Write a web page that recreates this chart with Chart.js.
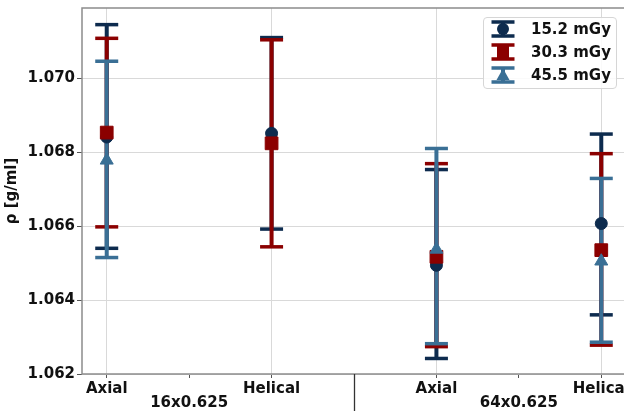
<!DOCTYPE html>
<html>
<head>
<meta charset="utf-8">
<script src="https://cdn.jsdelivr.net/npm/chart.js@4.4.1/dist/chart.umd.min.js"></script>
<style>
  html, body { margin: 0; padding: 0; background: #fff; overflow: hidden; }
  #wrap { position: relative; width: 624px; height: 411px; overflow: hidden; }
  #c { position: absolute; left: 0; top: 0; }
  #legend { position: absolute; left: 483px; top: 17px; width: 132px; height: 70px;
    border: 1px solid #d6d6d6; border-radius: 4px; background: rgba(255,255,255,0.85);
    font: bold 15px "DejaVu Sans", sans-serif; color: #111; }
  .row { position: absolute; left: 0; height: 20px; display: flex; align-items: center; white-space: nowrap; }
  .row canvas { margin-left: 6px; margin-right: 15px; }
</style>
</head>
<body>
<div id="wrap">
  <canvas id="c" width="630" height="411" style="width:630px;height:411px"></canvas>
  <div id="legend"></div>
</div>
<script>
// categories
const xLabels = ['Axial', 'Helical', 'Axial', 'Helical'];
const groupLabels = ['16x0.625', '64x0.625'];
const groupCenters = [0.5, 2.5];

// series names
const doseNames = ['15.2 mGy', '30.3 mGy', '45.5 mGy'];

// 15.2 mGy
const dose152Mean = [1.06841, 1.06851, 1.06494, 1.06607];
const dose152Low  = [1.06540, 1.06592, 1.06242, 1.06360];
const dose152High = [1.07145, 1.07110, 1.06753, 1.06849];

// 30.3 mGy
const dose303Mean = [1.06853, 1.06824, 1.06517, 1.06535];
const dose303Low  = [1.06598, 1.06544, 1.06274, 1.06278];
const dose303High = [1.07108, 1.07104, 1.06769, 1.06796];

// 45.5 mGy (no helical 16x0.625 point)
const dose455Mean = [1.06778, null, 1.06537, 1.06505];
const dose455Low  = [1.06515, null, 1.06282, 1.06286];
const dose455High = [1.07046, null, 1.06810, 1.06729];

const colors = ['#0d2b4e', '#8b0000', '#3a6f95'];
const markers = ['circle', 'rect', 'triangle'];
const markerRadius = [6, 9, 7.5];

function barPoints(low, high) {
  const pts = [];
  low.forEach((lo, i) => {
    if (lo === null) return;
    pts.push({x: i, y: lo}, {x: i, y: high[i]}, {x: i + 0.5, y: null});
  });
  return pts;
}

function meanPoints(mean) {
  return mean.map((v, i) => ({x: i, y: v})).filter(p => p.y !== null);
}

const means = [dose152Mean, dose303Mean, dose455Mean];
const lows = [dose152Low, dose303Low, dose455Low];
const highs = [dose152High, dose303High, dose455High];

const datasets = [];
for (let s = 0; s < 3; s++) {
  datasets.push({
    type: 'line',
    label: doseNames[s] + ' err',
    data: barPoints(lows[s], highs[s]),
    borderColor: colors[s],
    borderWidth: 4,
    spanGaps: false,
    pointStyle: 'line',
    pointRadius: 11.5,
    pointBorderWidth: 3.5,
    pointBorderColor: colors[s],
    pointBackgroundColor: colors[s],
    order: 5 - s
  });
}
for (let s = 0; s < 3; s++) {
  datasets.push({
    type: 'scatter',
    label: doseNames[s],
    data: meanPoints(means[s]),
    showLine: false,
    pointStyle: markers[s],
    pointRadius: markerRadius[s],
    backgroundColor: colors[s],
    borderColor: colors[s],
    borderWidth: 1,
    order: 2 - s
  });
}

const extras = {
  id: 'extras',
  afterDatasetsDraw(chart) {
    const ctx = chart.ctx;
    const a = chart.chartArea;
    const x = chart.scales.x;
    ctx.save();
    // frame
    ctx.strokeStyle = '#8c8c8c';
    ctx.lineWidth = 1.5;
    ctx.strokeRect(a.left, a.top, a.right - a.left, a.bottom - a.top);
    // group separator
    const sx = Math.round(x.getPixelForValue(1.5)) + 0.5;
    ctx.strokeStyle = '#333';
    ctx.lineWidth = 1.3;
    ctx.beginPath();
    ctx.moveTo(sx, a.bottom);
    ctx.lineTo(sx, chart.height);
    ctx.stroke();
    // group labels
    ctx.fillStyle = '#111';
    ctx.font = 'bold 15px "DejaVu Sans"';
    ctx.textAlign = 'center';
    ctx.textBaseline = 'middle';
    groupLabels.forEach((g, i) => {
      ctx.fillText(g, x.getPixelForValue(groupCenters[i]), 403.5);
    });
    ctx.restore();
  }
};

new Chart(document.getElementById('c'), {
  data: { datasets: datasets },
  options: {
    responsive: false,
    animation: false,
    events: [],
    devicePixelRatio: 1,
    layout: { autoPadding: false, padding: { top: 8, right: 4, left: 0, bottom: 0 } },
    plugins: {
      legend: { display: false },
      tooltip: { enabled: false }
    },
    scales: {
      x: {
        type: 'linear',
        min: -0.15,
        max: 3.15,
        afterBuildTicks: s => { s.ticks = [0, 0.5, 1, 2, 2.5, 3].map(v => ({value: v})); },
        afterFit: s => { s.height = 37; s.paddingLeft = 0; s.paddingRight = 0; },
        border: { display: false },
        grid: {
          color: c => (c.tick && Number.isInteger(c.tick.value)) ? '#d9d9d9' : 'rgba(0,0,0,0)',
          tickColor: '#555',
          tickLength: 4,
          lineWidth: 1
        },
        ticks: {
          callback: v => Number.isInteger(v) ? xLabels[v] : '',
          autoSkip: false,
          maxRotation: 0,
          padding: 2,
          color: '#111',
          font: { family: 'DejaVu Sans', size: 15, weight: 'bold' }
        }
      },
      y: {
        type: 'linear',
        min: 1.062,
        max: 1.0719,
        afterFit: s => { s.width = 82; s.paddingTop = 0; s.paddingBottom = 0; },
        border: { display: false },
        grid: { color: '#d9d9d9', tickColor: '#555', tickLength: 5, lineWidth: 1 },
        ticks: {
          stepSize: 0.002,
          includeBounds: false,
          padding: 2,
          color: '#111',
          font: { family: 'DejaVu Sans', size: 15, weight: 'bold' },
          callback: v => v.toFixed(3)
        },
        title: {
          display: true,
          text: 'ρ [g/ml]',
          color: '#111',
          padding: { top: 3, bottom: 0 },
          font: { family: 'DejaVu Sans', size: 15, weight: 'bold' }
        }
      }
    }
  },
  plugins: [extras]
});

// legend with errorbar icons
const legend = document.getElementById('legend');
const rowCenters = [11.3, 34, 56.7];
doseNames.forEach((name, s) => {
  const row = document.createElement('div');
  row.className = 'row';
  row.style.top = (rowCenters[s] - 10) + 'px';
  const cv = document.createElement('canvas');
  cv.width = 26; cv.height = 20;
  const g = cv.getContext('2d');
  g.strokeStyle = colors[s];
  g.fillStyle = colors[s];
  g.lineWidth = 4;
  g.beginPath(); g.moveTo(13, 3); g.lineTo(13, 17); g.stroke();
  g.lineWidth = 3.5;
  g.beginPath(); g.moveTo(1.5, 3); g.lineTo(24.5, 3); g.moveTo(1.5, 17); g.lineTo(24.5, 17); g.stroke();
  g.beginPath();
  if (s === 0) { g.arc(13, 10, 6, 0, Math.PI * 2); }
  else if (s === 1) { g.rect(7, 4, 12, 12); }
  else { g.moveTo(13, 3.5); g.lineTo(19.5, 15); g.lineTo(6.5, 15); g.closePath(); }
  g.fill();
  const label = document.createElement('span');
  label.textContent = name;
  row.appendChild(cv);
  row.appendChild(label);
  legend.appendChild(row);
});
</script>
</body>
</html>
